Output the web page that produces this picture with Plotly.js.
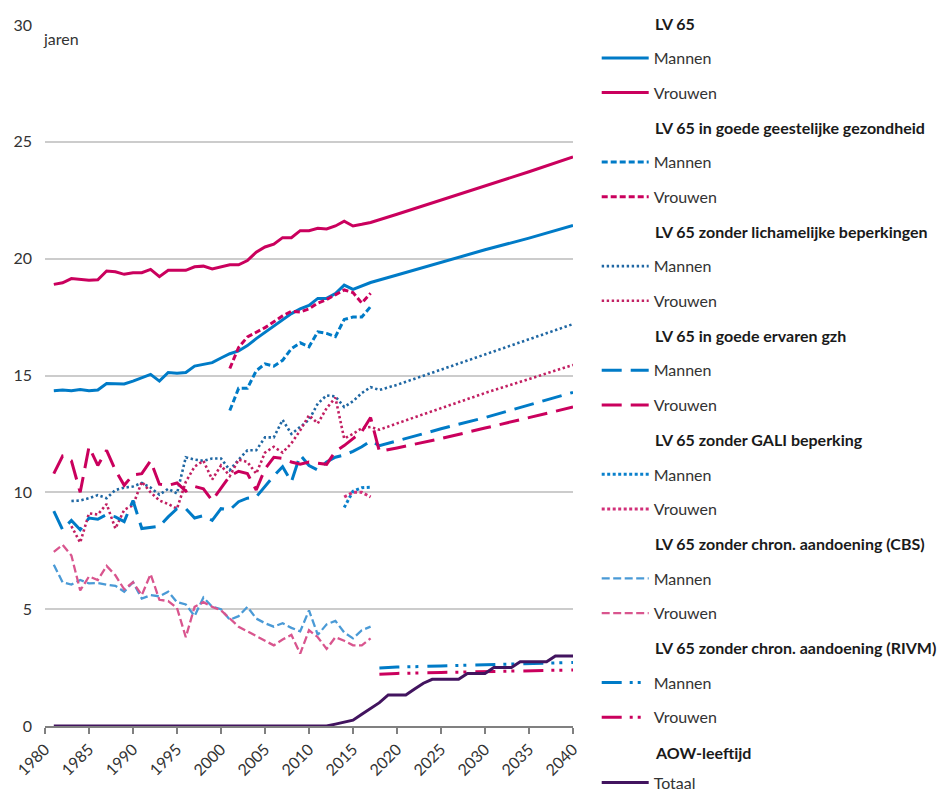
<!DOCTYPE html>
<html><head><meta charset="utf-8">
<script src="https://cdn.plot.ly/plotly-3.0.1.min.js"></script>
<style>html,body{margin:0;padding:0;background:#fff}#chart{width:950px;height:794px}</style>
</head><body><div id="chart"></div>
<script>
// ---------- DATA ----------
const obsYears = [1981,1982,1983,1984,1985,1986,1987,1988,1989,1990,1991,1992,1993,1994,1995,1996,1997,1998,1999,2000,2001,2002,2003,2004,2005,2006,2007,2008,2009,2010,2011,2012,2013,2014,2015,2016,2017];
const projYears = [2020,2025,2030,2035,2040];
const projYears18 = [2018,2020,2025,2030,2035,2040];
const lichYears = [1983,1984,1985,1986,1987,1988,1989,1990,1991,1992,1993,1994,1995,1996,1997,1998,1999,2000,2001,2002,2003,2004,2005,2006,2007,2008,2009,2010,2011,2012,2013,2014,2015,2016,2017];
const geestYears = [2001,2002,2003,2004,2005,2006,2007,2008,2009,2010,2011,2012,2013,2014,2015,2016,2017];
const galiYears = [2014,2015,2016,2017];
const rivmYears = [2018,2020,2025,2030,2035,2040];
const aowYears = [1981,2012,2013,2014,2015,2016,2017,2018,2019,2020,2021,2022,2023,2024,2025,2026,2027,2028,2029,2030,2031,2032,2033,2034,2035,2036,2037,2038,2039,2040];

const lv65M = [14.35,14.38,14.35,14.40,14.35,14.38,14.66,14.66,14.64,14.76,14.92,15.05,14.76,15.13,15.10,15.13,15.40,15.46,15.55,15.75,15.93,16.05,16.28,16.58,16.85,17.10,17.40,17.65,17.85,18.00,18.30,18.30,18.51,18.87,18.69,18.82,18.98];
const lv65MProj = [19.30,19.85,20.38,20.88,21.42];
const lv65V = [18.90,18.97,19.15,19.12,19.08,19.10,19.47,19.44,19.33,19.40,19.40,19.54,19.23,19.50,19.50,19.50,19.65,19.68,19.56,19.65,19.74,19.74,19.92,20.28,20.50,20.62,20.90,20.90,21.20,21.20,21.30,21.27,21.40,21.60,21.40,21.47,21.55];
const lv65VProj = [21.90,22.50,23.10,23.72,24.35];

const geestM = [13.50,14.45,14.45,15.20,15.50,15.40,15.65,16.15,16.40,16.23,16.87,16.80,16.66,17.40,17.50,17.50,17.95];
const geestV = [15.30,16.20,16.65,16.85,17.05,17.30,17.55,17.75,17.72,17.85,18.10,18.25,18.45,18.66,18.55,18.10,18.52];

const lichM = [9.63,9.65,9.75,9.88,9.75,10.10,10.20,10.25,10.40,10.20,9.90,10.15,9.95,11.50,11.40,11.35,11.45,11.45,10.95,11.40,11.80,11.80,12.35,12.35,13.10,12.50,12.80,13.10,13.80,14.15,14.10,13.65,13.90,14.25,14.50];
const lichMProj = [14.38,14.60,15.25,15.90,16.55,17.20];
const lichV = [8.55,7.85,9.10,9.05,9.50,8.45,9.25,9.45,10.45,10.00,9.65,9.50,9.30,10.45,11.10,11.35,10.55,11.15,10.70,11.40,11.30,10.80,11.70,11.95,11.70,12.10,12.65,13.30,12.95,13.60,14.05,12.30,12.50,12.75,12.80];
const lichVProj = [12.68,12.95,13.60,14.25,14.85,15.45];

const gzhM = [9.20,8.40,8.80,8.40,8.90,8.85,9.05,8.95,8.75,9.65,8.45,8.50,8.55,8.95,9.30,9.30,8.90,9.00,8.80,9.30,9.25,9.60,9.75,9.80,10.25,10.70,11.10,10.45,11.60,11.15,10.95,11.30,11.50,11.60,11.75,11.95,12.20];
const gzhMProj = [12.00,12.20,12.72,13.20,13.75,14.28];
const gzhV = [10.80,11.55,11.35,10.00,11.95,11.15,11.80,10.95,10.30,10.75,10.80,11.35,10.35,10.30,10.40,10.05,10.25,10.15,9.65,10.20,10.70,10.90,10.80,10.10,11.00,11.50,11.45,11.30,11.20,11.30,11.25,11.20,11.75,12.00,12.30,12.60,13.20];
const gzhVProj = [11.75,11.90,12.30,12.75,13.20,13.65];

const galiM = [9.35,10.05,10.20,10.22];
const galiV = [9.80,10.00,10.00,9.80];

const cbsM = [6.90,6.15,6.05,6.25,6.10,6.12,6.05,6.00,5.75,6.15,5.45,5.60,5.55,5.75,5.30,5.20,4.70,5.50,5.10,5.00,4.55,4.70,5.10,4.60,4.40,4.25,4.40,4.20,4.05,4.95,3.90,4.35,4.50,4.00,3.75,4.10,4.25];
const cbsV = [7.45,7.75,7.30,5.80,6.40,6.25,6.85,6.45,5.85,6.15,5.60,6.50,5.40,5.35,5.05,3.80,5.10,5.30,5.10,4.95,4.60,4.25,4.05,3.85,3.65,3.45,3.70,3.90,3.10,4.10,3.80,3.30,3.80,3.65,3.45,3.45,3.75];

const rivmM = [2.48,2.52,2.57,2.62,2.67,2.72];
const rivmV = [2.22,2.25,2.29,2.33,2.37,2.40];

const aow = [0,0,0.08,0.17,0.25,0.50,0.75,1.00,1.33,1.33,1.33,1.58,1.83,2.00,2.00,2.00,2.00,2.25,2.25,2.25,2.50,2.50,2.50,2.75,2.75,2.75,2.75,3.00,3.00,3.00];

const groupTitles = ['LV 65','LV 65 in goede geestelijke gezondheid','LV 65 zonder lichamelijke beperkingen','LV 65 in goede ervaren gzh','LV 65 zonder GALI beperking','LV 65 zonder chron. aandoening (CBS)','LV 65 zonder chron. aandoening (RIVM)','AOW-leeftijd'];
const labM = 'Mannen', labV = 'Vrouwen', labT = 'Totaal';

// ---------- STYLE ----------
const BLUE = '#007bc7', RED = '#ca005d', PURPLE = '#42145f';
const FONT = 'Lato, "Open Sans", sans-serif';

const seriesDefs = [
  {name: labM, x: obsYears.concat(projYears), y: lv65M.concat(lv65MProj), color: BLUE, w: 3, dash: 'solid', row: 1},
  {name: labV, x: obsYears.concat(projYears), y: lv65V.concat(lv65VProj), color: RED, w: 3, dash: 'solid', row: 2},
  {name: labM, x: geestYears, y: geestM, color: BLUE, w: 3, dash: '6px,3px', row: 4},
  {name: labV, x: geestYears, y: geestV, color: RED, w: 3, dash: '6px,3px', row: 5},
  {name: labM, x: lichYears.concat(projYears18), y: lichM.concat(lichMProj), color: '#1f67a3', w: 2.6, dash: '2.4px,2.6px', row: 7},
  {name: labV, x: lichYears.concat(projYears18), y: lichV.concat(lichVProj), color: '#c21f62', w: 2.6, dash: '2.4px,2.6px', row: 8},
  {name: labM, x: obsYears.concat(projYears18), y: gzhM.concat(gzhMProj), color: BLUE, w: 3, dash: '20px,9px', row: 10},
  {name: labV, x: obsYears.concat(projYears18), y: gzhV.concat(gzhVProj), color: RED, w: 3, dash: '20px,9px', row: 11},
  {name: labM, x: galiYears, y: galiM, color: '#0a80cc', w: 3, dash: '3px,2.5px', row: 13},
  {name: labV, x: galiYears, y: galiV, color: '#d12f78', w: 3, dash: '3px,2.5px', row: 14},
  {name: labM, x: obsYears, y: cbsM, color: '#4a9ad6', w: 2.3, dash: '8px,3.5px', row: 16},
  {name: labV, x: obsYears, y: cbsV, color: '#d9558e', w: 2.3, dash: '8px,3.5px', row: 17},
  {name: labM, x: rivmYears, y: rivmM, color: BLUE, w: 3, dash: '20px,8px,3px,5px,3px,9px', row: 19},
  {name: labV, x: rivmYears, y: rivmV, color: RED, w: 3, dash: '20px,8px,3px,5px,3px,9px', row: 20},
  {name: labT, x: aowYears, y: aow, color: PURPLE, w: 3, dash: 'solid', row: 21.88}
];
const titleRows = [0,3,6,9,12,15,18,21];

// ---------- LAYOUT HELPERS ----------
const M = {l: 45, r: 377, t: 25, b: 68};
const PW = 950 - M.l - M.r, PH = 794 - M.t - M.b;
const rowPx = i => 23.3 + i * 34.7;
const pxToPaperY = py => 1 - (py - M.t) / PH;
const pxToPaperX = px => (px - M.l) / PW;

const traces = [];
const layout = {
  width: 950, height: 794,
  margin: {l: M.l, r: M.r, t: M.t, b: M.b, autoexpand: false},
  paper_bgcolor: '#fff', plot_bgcolor: '#fff',
  font: {family: FONT, size: 16, color: '#333'},
  showlegend: true,
  xaxis: {range: [1980, 2040], tick0: 1980, dtick: 5, tickangle: -45, ticks: 'outside', ticklen: 6,
          tickwidth: 1.5, tickcolor: '#808080', showline: true, linecolor: '#808080', linewidth: 1.5,
          showgrid: false, zeroline: false, tickfont: {family: FONT, size: 16, color: '#333'}, fixedrange: true},
  yaxis: {range: [0, 30], tick0: 0, dtick: 5, showgrid: true, gridcolor: '#cccccc', gridwidth: 1.5,
          zeroline: false, showline: false, ticks: '', ticklabelstandoff: 12,
          tickfont: {family: FONT, size: 16, color: '#333'}, fixedrange: true},
  annotations: [
    {text: 'jaren', xref: 'paper', yref: 'paper', x: pxToPaperX(41), y: pxToPaperY(38), xanchor: 'left', yanchor: 'middle',
     showarrow: false, font: {family: FONT, size: 16, color: '#333'}}
  ]
};

seriesDefs.forEach((s, i) => {
  const lid = i === 0 ? 'legend' : 'legend' + (i + 1);
  traces.push({type: 'scatter', mode: 'lines', name: s.name, x: s.x, y: s.y,
    line: {color: s.color, width: s.w, dash: s.dash}, legend: lid, showlegend: true, hoverinfo: 'skip'});
  layout[lid] = {x: pxToPaperX(596.7), xanchor: 'left', y: pxToPaperY(rowPx(s.row) - 17), yanchor: 'top',
    bgcolor: 'rgba(0,0,0,0)', borderwidth: 0, itemwidth: 47, itemclick: false, itemdoubleclick: false,
    font: {family: FONT, size: 16, color: '#333'}};
});

groupTitles.forEach((t, k) => {
  layout.annotations.push({text: t, xref: 'paper', yref: 'paper', x: pxToPaperX(653.3), y: pxToPaperY(rowPx(titleRows[k])),
    xanchor: 'left', yanchor: 'middle', showarrow: false,
    font: {family: FONT, size: 16, color: '#1a1a1a', weight: 700}});
});

Plotly.newPlot('chart', traces, layout, {displayModeBar: false, staticPlot: false});
</script></body></html>
